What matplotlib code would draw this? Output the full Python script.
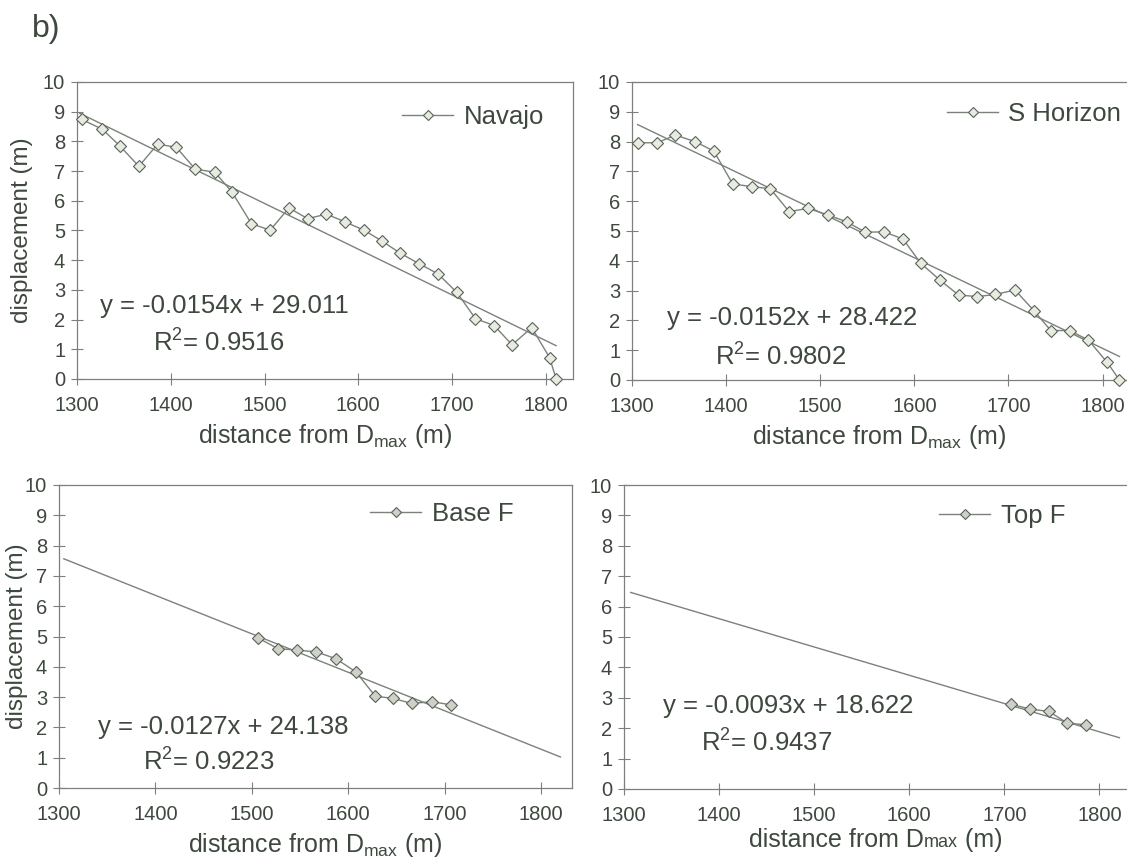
import matplotlib
matplotlib.use("Agg")
import matplotlib.pyplot as plt
import numpy as np

plt.rcParams["font.family"] = ["Liberation Sans", "DejaVu Sans"]
plt.rcParams["mathtext.default"] = "regular"

TEXT = "#3e483e"
AXIS = "#7c807c"
LINE = "#7a827a"
EDGE = "#5a605a"

# ---- data -------------------------------------------------------------
navajo_x = [1305, 1327, 1346, 1366, 1386, 1406, 1426, 1447, 1465, 1486, 1506,
            1526, 1546, 1566, 1586, 1606, 1625, 1645, 1665, 1685, 1705, 1725,
            1745, 1764, 1785, 1804, 1811]
navajo_y = [8.74, 8.41, 7.84, 7.16, 7.91, 7.80, 7.07, 6.96, 6.31, 5.23, 5.01,
            5.76, 5.40, 5.55, 5.29, 5.01, 4.65, 4.23, 3.88, 3.54, 2.92, 2.03,
            1.80, 1.15, 1.73, 0.72, 0.0]

shorizon_x = [1306, 1327, 1346, 1367, 1387, 1407, 1427, 1447, 1467, 1487, 1508,
              1528, 1548, 1568, 1588, 1607, 1627, 1647, 1667, 1686, 1707, 1727,
              1745, 1765, 1785, 1805, 1818]
shorizon_y = [7.96, 7.96, 8.22, 8.00, 7.68, 6.58, 6.49, 6.42, 5.65, 5.76, 5.54,
              5.31, 4.96, 4.97, 4.73, 3.91, 3.36, 2.85, 2.80, 2.87, 3.02, 2.33,
              1.66, 1.66, 1.34, 0.59, 0.0]

basef_x = [1506, 1527, 1547, 1567, 1587, 1608, 1628, 1646, 1666, 1687, 1707]
basef_y = [4.96, 4.60, 4.55, 4.49, 4.27, 3.83, 3.03, 2.96, 2.79, 2.85, 2.74]

topf_x = [1707, 1727, 1747, 1766, 1786]
topf_y = [2.79, 2.63, 2.55, 2.17, 2.11]

# linear fits (slope, intercept, R^2) and the x-span each trend line covers
fits = {
    "Navajo":    (-0.0154, 29.011, "0.9516", (1303, 1811)),
    "S Horizon": (-0.0152, 28.422, "0.9802", (1306, 1818)),
    "Base F":    (-0.0127, 24.138, "0.9223", (1305, 1820)),
    "Top F":     (-0.0093, 18.622, "0.9437", (1307, 1821)),
}

x_ticks = [1300, 1400, 1500, 1600, 1700, 1800]
y_ticks = list(range(0, 11))

W, H = 1127, 861
fig = plt.figure(figsize=(W / 100, H / 100), dpi=100)


def px_axes(left, right, top, bottom):
    return fig.add_axes([left / W, 1 - bottom / H, (right - left) / W, (bottom - top) / H])


panels = [
    # name, x, y, axes box px, xlim right, marker face, eq pos, r2 pos, legend anchor,
    # ylabel x (axes fraction or None), right spine
    ("Navajo", navajo_x, navajo_y, (77, 573, 82, 379), 1829, "#e6ecdf",
     (0.046, 0.246), (0.153, 0.121), (0.655, 0.882), -0.089, True),
    ("S Horizon", shorizon_x, shorizon_y, (632, 1127, 82, 380), 1826, "#e6ecdf",
     (0.071, 0.208), (0.168, 0.077), (0.636, 0.893), None, False),
    ("Base F", basef_x, basef_y, (59, 572, 485, 788), 1832, "#cdd1c8",
     (0.076, 0.201), (0.164, 0.086), (0.606, 0.904), -0.060, True),
    ("Top F", topf_x, topf_y, (624, 1127, 485, 789), 1829, "#cdd1c8",
     (0.078, 0.273), (0.153, 0.151), (0.626, 0.898), None, False),
]

axes = []
for (name, xs, ys, box, xr, face, eqp, r2p, legp, ylab_x, rsp) in panels:
    ax = px_axes(*box)
    axes.append(ax)
    slope, icpt, r2, (t0, t1) = fits[name]

    tx = np.array([t0, t1], dtype=float)
    ax.plot(tx, slope * tx + icpt, color=LINE, lw=1.0, zorder=2)
    ax.plot(xs, ys, color=LINE, lw=1.0, marker="D", markersize=6.5,
            markerfacecolor=face, markeredgecolor=EDGE, markeredgewidth=0.8,
            label=name, zorder=3, clip_on=False)

    ax.set_xlim(1300, xr)
    ax.set_ylim(0, 10)
    ax.set_xticks(x_ticks)
    ax.set_yticks(y_ticks)
    ax.tick_params(direction="inout", length=9, width=0.8, color=AXIS,
                   labelsize=14.5, labelcolor=TEXT)
    ax.tick_params(axis="x", pad=8)
    ax.tick_params(axis="y", pad=4)
    for s in ax.spines.values():
        s.set_color(AXIS)
        s.set_linewidth(0.9)
    ax.spines["right"].set_visible(rsp)

    ax.text(eqp[0], eqp[1], f"y = {slope:.4f}x + {icpt:.3f}", transform=ax.transAxes,
            ha="left", va="center", fontsize=18.5, color=TEXT)
    ax.text(r2p[0], r2p[1], f"R$^2$= {r2}", transform=ax.transAxes,
            ha="left", va="center", fontsize=18.5, color=TEXT)

    leg = ax.legend(loc="center left", bbox_to_anchor=legp, frameon=False,
                    borderpad=0, borderaxespad=0, handlelength=2.0,
                    handletextpad=0.4, markerscale=0.75, fontsize=18.5)
    for t in leg.get_texts():
        t.set_color(TEXT)

    if ylab_x is not None:
        ax.set_ylabel("displacement (m)", fontsize=17.5, color=TEXT)
        ax.yaxis.set_label_coords(ylab_x, 0.5)

for ax in axes[:3]:
    ax.set_xlabel("distance from D$_{max}$ (m)", fontsize=18, color=TEXT, labelpad=5)

# last panel: "max" set small on the baseline rather than as a subscript
fig.canvas.draw()
renderer = fig.canvas.get_renderer()
ax4 = axes[3]
pieces = [("distance from D", 18), ("max", 13), (" (m)", 18)]
base_y = 1 - 847 / H
objs = [fig.text(0, base_y, s, fontsize=fs, color=TEXT, ha="left", va="baseline")
        for s, fs in pieces]
widths = [o.get_window_extent(renderer).width for o in objs]
bb = ax4.get_window_extent(renderer)
cx = (bb.x0 + bb.x1) / 2
x = cx - sum(widths) / 2
for o, w in zip(objs, widths):
    o.set_x(x / W)
    x += w

fig.text(32 / W, 1 - 37 / H, "b)", fontsize=23, color=TEXT, ha="left", va="baseline")

fig.savefig("out.png", dpi=100)
